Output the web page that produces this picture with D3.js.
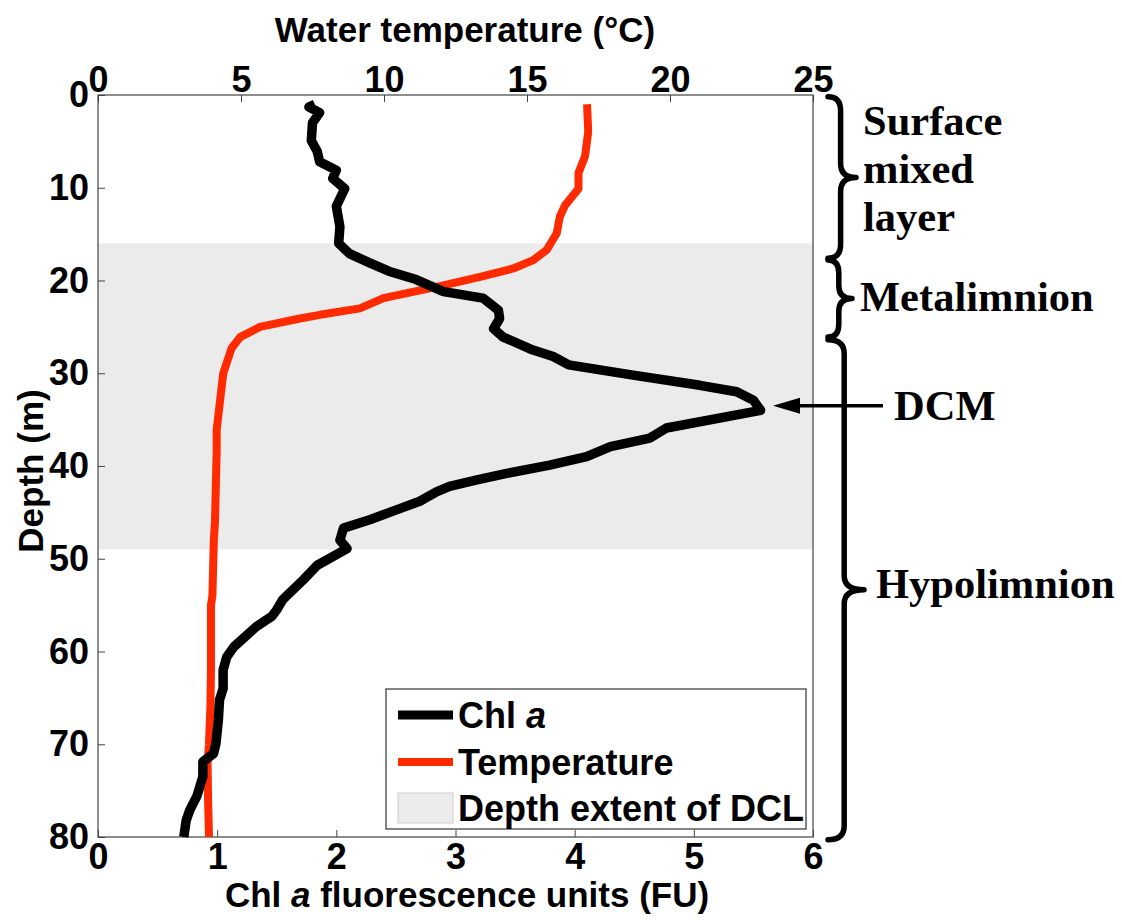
<!DOCTYPE html>
<html>
<head>
<meta charset="utf-8">
<script src="https://cdn.jsdelivr.net/npm/d3@7/dist/d3.min.js"></script>
<style>
  html, body { margin: 0; padding: 0; background: #fff; }
  svg { display: block; }
</style>
</head>
<body>
<svg id="chart" width="1122" height="920"></svg>
<script>
// Chlorophyll a profile: depth (m) and fluorescence (FU)
const chlDepth = [1.0, 1.3, 1.9, 3.0, 4.9, 6.1, 7.2, 8.1, 9.0, 10.1, 12.0, 14.2, 16.0, 17.1, 18.1, 19.0, 19.9, 21.2, 21.9, 23.2, 24.1, 25.2, 26.1, 27.5, 28.2, 29.1, 30.2, 31.3, 32.0, 32.9, 34.0, 35.9, 37.0, 37.9, 39.0, 39.9, 40.8, 41.5, 42.2, 42.8, 43.8, 44.7, 45.8, 46.7, 48.0, 48.9, 50.7, 52.3, 54.4, 55.5, 56.2, 57.3, 59.5, 60.6, 62.0, 64.0, 65.2, 67.4, 69.9, 71.0, 71.9, 73.5, 75.6, 77.1, 78.2, 80.0];
const chlValue = [1.82, 1.77, 1.86, 1.80, 1.79, 1.84, 1.86, 2.00, 1.97, 2.07, 2.00, 2.03, 2.02, 2.11, 2.28, 2.44, 2.67, 2.90, 3.23, 3.36, 3.37, 3.32, 3.40, 3.65, 3.82, 3.95, 4.49, 5.05, 5.36, 5.50, 5.56, 4.77, 4.63, 4.30, 4.10, 3.79, 3.43, 3.18, 2.95, 2.84, 2.70, 2.51, 2.28, 2.06, 2.03, 2.09, 1.84, 1.72, 1.55, 1.50, 1.46, 1.33, 1.14, 1.08, 1.05, 1.05, 1.02, 1.01, 0.99, 0.97, 0.88, 0.88, 0.83, 0.77, 0.74, 0.72];

// Water temperature profile: depth (m) and temperature (°C)
const tempDepth = [1.0, 4.0, 6.6, 8.4, 10.1, 11.9, 13.1, 14.9, 16.7, 17.8, 18.7, 19.6, 20.6, 21.9, 23.0, 23.7, 24.1, 25.0, 26.1, 27.3, 30.0, 32.9, 36.1, 38.3, 46.0, 48.0, 54.0, 55.0, 62.0, 66.0, 70.0, 72.0, 76.0, 80.0];
const tempValue = [17.10, 17.14, 17.03, 16.80, 16.80, 16.33, 16.15, 16.04, 15.69, 15.22, 14.52, 13.36, 11.96, 9.98, 9.16, 7.76, 7.06, 5.66, 4.97, 4.67, 4.38, 4.27, 4.15, 4.15, 4.09, 4.05, 4.00, 3.95, 3.95, 3.93, 3.88, 3.83, 3.85, 3.88];

// Depth extent of the deep chlorophyll layer (m)
const dclRange = [16, 49];

// Axis ticks
const chlTicks = [0, 1, 2, 3, 4, 5, 6];
const tempTicks = [0, 5, 10, 15, 20, 25];
const depthTicks = [0, 10, 20, 30, 40, 50, 60, 70, 80];

// Lake layers annotated on the right (depth bounds in m)
const layerNames = [["Surface", "mixed", "layer"], ["Metalimnion"], ["Hypolimnion"]];
const layerTop = [0.2, 17.8, 26.4];
const layerBottom = [17.6, 26.1, 80.3];
const dcmDepth = 33.5;

const svg = d3.select("#chart");
const plotL = 98, plotR = 813, plotT = 95, plotB = 837;

const x = d3.scaleLinear().domain([0, 6]).range([plotL, plotR]);
const xT = d3.scaleLinear().domain([0, 25]).range([plotL, plotR]);
const y = d3.scaleLinear().domain([0, 80]).range([plotT, plotB]);

const sans = "'Liberation Sans', Arial, Helvetica, sans-serif";
const serif = "'Liberation Serif', 'Times New Roman', serif";
const frameColor = "#444";

// DCL band
svg.append("rect")
  .attr("x", plotL).attr("width", plotR - plotL)
  .attr("y", y(dclRange[0])).attr("height", y(dclRange[1]) - y(dclRange[0]))
  .attr("fill", "#ebebeb");

// Axes (ticks pointing inward)
function styleAxis(g, size) {
  g.select(".domain").remove();
  g.selectAll(".tick line").attr("stroke", frameColor).attr("stroke-width", 1);
  g.selectAll(".tick text")
    .attr("fill", "#000")
    .style("font-family", sans)
    .style("font-weight", "bold")
    .style("font-size", size + "px");
}

svg.append("g")
  .attr("transform", `translate(0,${plotB})`)
  .call(d3.axisBottom(x).tickValues(chlTicks).tickFormat(d3.format("d")).tickSizeInner(-7).tickSizeOuter(0).tickPadding(6))
  .call(g => styleAxis(g, 36));

svg.append("g")
  .attr("transform", `translate(0,${plotT})`)
  .call(d3.axisTop(xT).tickValues(tempTicks).tickFormat(d3.format("d")).tickSizeInner(-7).tickSizeOuter(0).tickPadding(3))
  .call(g => styleAxis(g, 36));

svg.append("g")
  .attr("transform", `translate(${plotL},0)`)
  .call(d3.axisLeft(y).tickValues(depthTicks).tickFormat(d3.format("d")).tickSizeInner(-7).tickSizeOuter(0).tickPadding(9))
  .call(g => styleAxis(g, 36));

// Plot frame
svg.append("rect")
  .attr("x", plotL).attr("y", plotT)
  .attr("width", plotR - plotL).attr("height", plotB - plotT)
  .attr("fill", "none").attr("stroke", frameColor).attr("stroke-width", 1.2);

// Axis titles
svg.append("text")
  .attr("x", 465).attr("y", 42)
  .attr("text-anchor", "middle")
  .style("font-family", sans).style("font-weight", "bold").style("font-size", "35px")
  .text("Water temperature (°C)");

const xTitle = svg.append("text")
  .attr("x", 467).attr("y", 907)
  .attr("text-anchor", "middle")
  .style("font-family", sans).style("font-weight", "bold").style("font-size", "35px");
xTitle.append("tspan").text("Chl ");
xTitle.append("tspan").style("font-style", "italic").text("a");
xTitle.append("tspan").text(" fluorescence units (FU)");

svg.append("text")
  .attr("transform", "translate(43,471) rotate(-90)")
  .attr("text-anchor", "middle")
  .style("font-family", sans).style("font-weight", "bold").style("font-size", "35px")
  .text("Depth (m)");

// Profiles
const tempLine = d3.line().x(d => xT(d[1])).y(d => y(d[0]));
const chlLine = d3.line().x(d => x(d[1])).y(d => y(d[0]));

svg.append("path")
  .datum(d3.zip(tempDepth, tempValue))
  .attr("d", tempLine)
  .attr("fill", "none").attr("stroke", "#ff2a00")
  .attr("stroke-width", 8).attr("stroke-linejoin", "round");

svg.append("path")
  .datum(d3.zip(chlDepth, chlValue))
  .attr("d", chlLine)
  .attr("fill", "none").attr("stroke", "#000")
  .attr("stroke-width", 9.5).attr("stroke-linejoin", "round");

// Legend
const lg = svg.append("g");
lg.append("rect")
  .attr("x", 386).attr("y", 689).attr("width", 420).attr("height", 140)
  .attr("fill", "#fff").attr("stroke", "#333").attr("stroke-width", 1.2);
lg.append("line").attr("x1", 398).attr("x2", 453).attr("y1", 715).attr("y2", 715)
  .attr("stroke", "#000").attr("stroke-width", 9);
lg.append("line").attr("x1", 398).attr("x2", 453).attr("y1", 762).attr("y2", 762)
  .attr("stroke", "#ff2a00").attr("stroke-width", 8);
lg.append("rect").attr("x", 398).attr("y", 793).attr("width", 55).attr("height", 30)
  .attr("fill", "#ebebeb").attr("stroke", "#cfcfcf").attr("stroke-width", 1);

const legText = (yy) => lg.append("text").attr("x", 458).attr("y", yy)
  .style("font-family", sans).style("font-weight", "bold").style("font-size", "36px");
const t1 = legText(728);
t1.append("tspan").text("Chl ");
t1.append("tspan").style("font-style", "italic").text("a");
legText(775).text("Temperature");
legText(821).text("Depth extent of DCL");

// Curly braces marking the lake layers
function bracePath(x0, y1, y2, w) {
  const xm = x0 + w * 0.45, ym = (y1 + y2) / 2, r = Math.min(14, (y2 - y1) / 6);
  return `M${x0},${y1} Q${xm},${y1} ${xm},${y1 + r} L${xm},${ym - r} Q${xm},${ym} ${x0 + w},${ym}` +
         ` Q${xm},${ym} ${xm},${ym + r} L${xm},${y2 - r} Q${xm},${y2} ${x0},${y2}`;
}
const braceWidth = [28, 24, 36];
layerNames.forEach((name, i) => {
  svg.append("path")
    .attr("d", bracePath(828, y(layerTop[i]), y(layerBottom[i]), braceWidth[i]))
    .attr("fill", "none").attr("stroke", "#000")
    .attr("stroke-width", 5.5).attr("stroke-linecap", "round").attr("stroke-linejoin", "round");
});

const serifText = (xx, yy, s) => svg.append("text").attr("x", xx).attr("y", yy)
  .style("font-family", serif).style("font-weight", "bold").style("font-size", "42.5px").text(s);
layerNames[0].forEach((s, j) => serifText(863, 135 + j * 48, s));
serifText(860, 311, layerNames[1][0]);
serifText(876, 598, layerNames[2][0]);

// DCM arrow
svg.append("line")
  .attr("x1", 883).attr("x2", 790).attr("y1", y(dcmDepth)).attr("y2", y(dcmDepth))
  .attr("stroke", "#000").attr("stroke-width", 3.5);
svg.append("path")
  .attr("d", `M773,${y(dcmDepth)} L800,${y(dcmDepth) - 8} L800,${y(dcmDepth) + 8} Z`)
  .attr("fill", "#000");
serifText(894, 420, "DCM");
</script>
</body>
</html>
